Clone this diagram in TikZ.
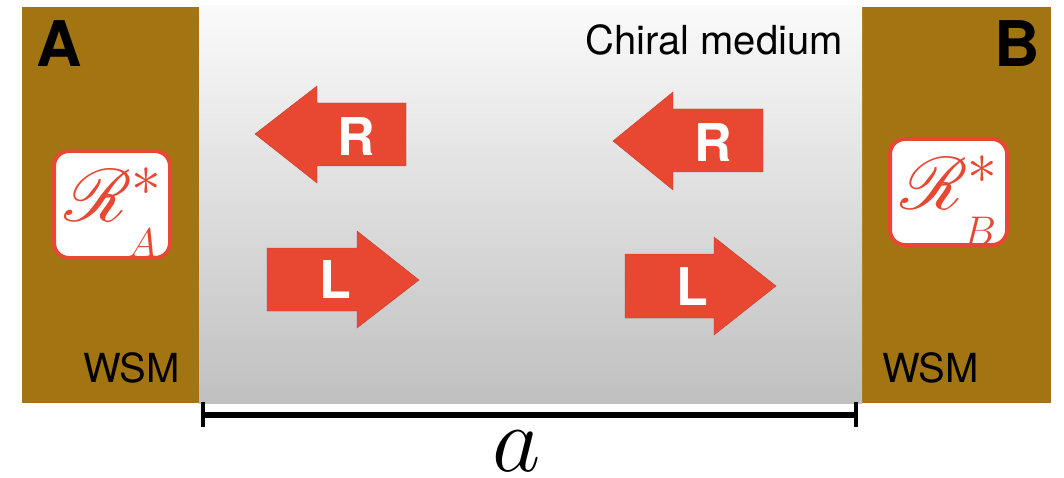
\RequirePackage{fix-cm}
\documentclass[tikz,border=0pt]{standalone}
\usepackage{fontspec}
\usepackage{graphicx}
\setsansfont{TeX Gyre Heros}
% script alphabet at any size
\DeclareFontFamily{U}{rsfsany}{\skewchar\font127}
\DeclareFontShape{U}{rsfsany}{m}{n}{<-> rsfs10}{}
\DeclareMathAlphabet{\scrfont}{U}{rsfsany}{m}{n}
\newcommand{\reflmat}[1]{\scrfont{R}^{\scalebox{1.15}{$\scriptstyle *$}}_{\raisebox{-17pt}{\scalebox{1.12}{$\scriptscriptstyle #1$}}}}
\definecolor{slab}{RGB}{163,116,18}
\definecolor{chiral}{RGB}{232,72,50}
\definecolor{medtop}{RGB}{250,250,250}
\definecolor{medbot}{RGB}{192,192,192}
\tikzset{
  fsz/.style={font=\sffamily\fontsize{#1}{#1}\selectfont},
  slabfill/.style={fill=slab},
  chiralarrow/.style={fill=chiral, draw=chiral!85!black, line width=0.4pt},
  arrowtag/.style={text=white, font=\sffamily\bfseries\fontsize{52}{52}\selectfont, inner sep=0pt},
  reflbox/.style={fill=white, draw=chiral, line width=4pt, rounded corners=15pt},
  refltext/.style={text=chiral, inner sep=0pt, anchor=base west, font=\fontsize{74}{74}\selectfont},
  baselabel/.style={inner sep=0pt, anchor=base},
}
\begin{document}
\begin{tikzpicture}[x=1pt,y=-1pt]
  \useasboundingbox (0,0) rectangle (1064,478);
  % the two Weyl semimetal slabs
  \fill[slabfill] (22,7) rectangle (199,403);
  \fill[slabfill] (862,7) rectangle (1051,403);
  % chiral medium between them
  \shade[top color=medtop, bottom color=medbot] (199,6) rectangle (862,403);

  % right-handed modes travelling to the left
  \filldraw[chiralarrow] (255,134) -- (317,86) -- (317,103) -- (406,103)
      -- (406,166) -- (317,166) -- (317,183) -- cycle;
  \filldraw[chiralarrow] (613,141) -- (673,92) -- (673,109) -- (763,109)
      -- (763,172) -- (673,172) -- (673,190) -- cycle;
  % left-handed modes travelling to the right
  \filldraw[chiralarrow] (419,280) -- (357,231) -- (357,248) -- (267,248)
      -- (267,311) -- (357,311) -- (357,328) -- cycle;
  \filldraw[chiralarrow] (776,286) -- (714,237) -- (714,254) -- (625,254)
      -- (625,318) -- (714,318) -- (714,335) -- cycle;

  \node[arrowtag] (r1) at (356,137) {R};
  \node[arrowtag] (r2) at (713,143) {R};
  \node[arrowtag] (l1) at (335,280) {L};
  \node[arrowtag] (l2) at (692,287) {L};

  % reflection matrices at the interfaces
  \draw[reflbox] (54,151) rectangle (170,258);
  \draw[reflbox] (890,139) rectangle (1007,245);
  \node[refltext] (ra) at (64,222) {$\reflmat{A}$};
  \node[refltext] (rb) at (900,210) {$\reflmat{B}$};

  % labels
  \node[baselabel, anchor=base west, font=\sffamily\bfseries\fontsize{63}{63}\selectfont] (la) at (36,67) {A};
  \node[baselabel, anchor=base east, font=\sffamily\bfseries\fontsize{63}{63}\selectfont] (lb) at (1040,67) {B};
  \node[baselabel, anchor=base east, fsz=40] (wa) at (180,382) {WSM};
  \node[baselabel, anchor=base west, fsz=40] (wb) at (882,382) {WSM};
  \node[baselabel, anchor=base east, fsz=40] (cm) at (843,55) {Chiral medium};

  % separation of the two interfaces
  \coordinate (sa) at (203,415);
  \coordinate (sb) at (856,415);
  \draw[line width=5.5pt] (sa) -- (sb);
  \draw[line width=4pt] ([yshift=-12pt]sa) -- ([yshift=13pt]sa);
  \draw[line width=4pt] ([yshift=-12pt]sb) -- ([yshift=13pt]sb);
  \node[baselabel, font=\fontsize{94}{94}\selectfont] (dist) at (517,471) {$a$};
\end{tikzpicture}
\end{document}
